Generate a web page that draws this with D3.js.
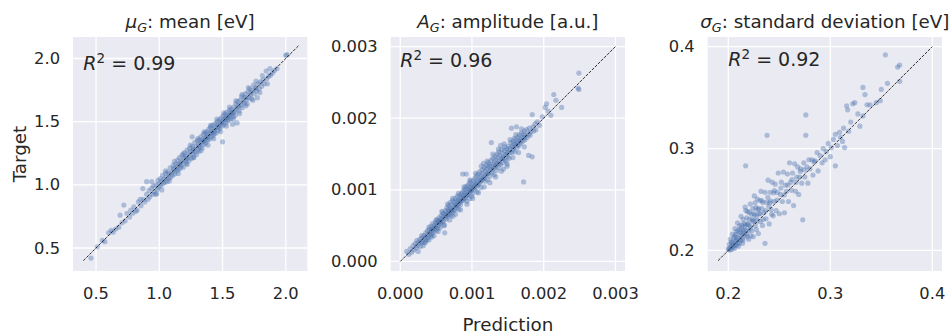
<!DOCTYPE html>
<html>
<head>
<meta charset="utf-8">
<script src="https://cdn.jsdelivr.net/npm/d3@7"></script>
<style>
  body { margin: 0; background: #fff; }
  text { font-family: "DejaVu Sans", sans-serif; fill: #262626; }
</style>
</head>
<body>
<div id="container"></div>
<script>
// [prediction, target] pairs
const muPoints = [
  [0.46,0.42],[0.51,0.51],[0.55,0.56],[0.57,0.55],[0.60,0.62],[0.62,0.64],[0.635,0.625],[0.655,0.65],[0.68,0.665],[0.69,0.76],
  [0.705,0.70],[0.72,0.84],[0.73,0.715],[0.745,0.775],[0.765,0.745],[0.775,0.80],[0.79,0.775],[0.80,0.825],[0.815,0.79],[0.825,0.80],
  [0.835,0.865],[0.85,0.885],[0.855,0.835],[0.87,0.97],[0.875,0.885],[0.885,0.865],[0.90,1.025],[0.90,0.925],[0.91,0.885],[0.92,0.955],
  [0.925,0.905],[0.94,1.025],[0.94,0.975],[0.945,0.925],[0.955,0.99],[0.96,0.945],[0.97,0.925],[0.975,1.00],[0.98,0.93],[0.985,0.965],
  [0.99,1.035],[0.995,0.98],[1.00,1.01],[1.008,1.05],[1.012,0.995],[1.02,1.03],[1.026,1.075],[1.03,1.01],[1.038,1.045],[1.045,1.02],
  [1.05,1.09],[1.055,1.06],[1.06,1.025],[1.068,1.10],[1.075,1.05],[1.08,1.085],[1.086,1.135],[1.09,1.06],[1.10,1.10],[1.105,1.075],
  [1.11,1.155],[1.118,1.12],[1.122,1.085],[1.13,1.165],[1.134,1.11],[1.14,1.14],[1.145,1.195],[1.15,1.12],[1.155,1.165],[1.16,1.215],
  [1.165,1.13],[1.17,1.18],[1.175,1.15],[1.18,1.235],[1.185,1.19],[1.19,1.14],[1.195,1.215],[1.20,1.255],[1.205,1.18],[1.21,1.225],
  [1.214,1.17],[1.22,1.275],[1.225,1.21],[1.23,1.245],[1.235,1.19],[1.24,1.29],[1.244,1.235],[1.25,1.265],[1.255,1.21],[1.26,1.38],
  [1.262,1.305],[1.266,1.25],[1.27,1.285],[1.275,1.22],[1.28,1.335],[1.284,1.26],[1.29,1.30],[1.295,1.24],[1.30,1.35],[1.302,1.28],
  [1.31,1.32],[1.312,1.265],[1.318,1.355],[1.322,1.30],[1.328,1.38],[1.332,1.335],[1.338,1.29],[1.342,1.36],[1.348,1.40],[1.352,1.32],
  [1.356,1.35],[1.362,1.41],[1.366,1.33],[1.37,1.375],[1.375,1.42],[1.38,1.35],[1.384,1.395],[1.39,1.44],[1.394,1.36],[1.40,1.41],
  [1.404,1.455],[1.41,1.375],[1.414,1.425],[1.42,1.47],[1.424,1.39],[1.43,1.44],[1.434,1.405],[1.44,1.485],[1.444,1.45],[1.45,1.41],
  [1.455,1.475],[1.46,1.50],[1.464,1.43],[1.47,1.465],[1.474,1.515],[1.48,1.445],[1.485,1.49],[1.49,1.53],[1.494,1.465],[1.50,1.505],
  [1.50,1.34],[1.505,1.545],[1.51,1.475],[1.515,1.52],[1.52,1.56],[1.525,1.49],[1.53,1.535],[1.535,1.575],[1.54,1.505],[1.545,1.55],
  [1.55,1.515],[1.555,1.59],[1.56,1.55],[1.565,1.525],[1.57,1.60],[1.575,1.565],[1.58,1.48],[1.585,1.54],[1.59,1.615],[1.595,1.58],
  [1.60,1.55],[1.605,1.64],[1.61,1.60],[1.615,1.49],[1.62,1.66],[1.625,1.615],[1.63,1.585],[1.64,1.67],[1.645,1.63],[1.65,1.70],
  [1.655,1.61],[1.66,1.655],[1.67,1.69],[1.675,1.645],[1.68,1.72],[1.69,1.675],[1.695,1.64],[1.70,1.735],[1.71,1.69],[1.715,1.76],
  [1.72,1.71],[1.73,1.68],[1.735,1.75],[1.745,1.79],[1.75,1.72],[1.76,1.77],[1.77,1.74],[1.775,1.69],[1.78,1.80],[1.79,1.76],
  [1.80,1.815],[1.81,1.78],[1.82,1.83],[1.83,1.80],[1.845,1.90],[1.85,1.84],[1.865,1.86],[1.88,1.87],[1.895,1.885],[1.91,1.905],
  [1.93,1.92],[2.00,2.025],[2.01,2.03],
  [1.02,0.96],[1.05,1.11],[1.08,1.03],[1.12,1.185],[1.15,1.09],[1.19,1.245],[1.22,1.16],[1.245,1.315],[1.27,1.215],[1.305,1.365],
  [1.33,1.27],[1.355,1.42],[1.385,1.315],[1.405,1.47],[1.43,1.365],[1.455,1.52],[1.485,1.42],[1.51,1.57],[1.53,1.465],[1.555,1.615],
  [1.585,1.52],[1.605,1.665],[1.635,1.565],[1.655,1.715],[1.685,1.625],[1.705,1.77],[1.74,1.67],[1.765,1.82],[1.795,1.73],[1.815,1.865],
  [1.855,1.80],[1.875,1.92],
  [1.115,1.13],[1.165,1.16],[1.215,1.205],[1.265,1.27],[1.315,1.31],[1.345,1.345],[1.365,1.37],[1.385,1.38],[1.415,1.41],[1.435,1.425],
  [1.465,1.455],[1.495,1.49],[1.525,1.52],[1.545,1.535],[1.565,1.57],[1.585,1.575],[1.625,1.63],[1.685,1.69],[1.725,1.73],[1.765,1.76]
];

// amplitude pairs, in units of 1e-3
const ampPoints = [
  [0.09,0.14],[0.12,0.10],[0.14,0.18],[0.16,0.13],[0.18,0.22],[0.19,0.16],[0.21,0.25],[0.22,0.19],[0.23,0.29],[0.24,0.22],
  [0.25,0.14],[0.26,0.27],[0.27,0.31],[0.28,0.21],[0.29,0.26],[0.30,0.33],[0.31,0.28],[0.32,0.22],[0.33,0.36],[0.34,0.31],
  [0.35,0.27],[0.355,0.40],[0.36,0.34],[0.37,0.30],[0.38,0.43],[0.385,0.37],[0.39,0.33],[0.40,0.30],[0.405,0.45],[0.41,0.40],
  [0.42,0.36],[0.43,0.49],[0.435,0.43],[0.44,0.38],[0.45,0.53],[0.455,0.46],[0.46,0.41],[0.47,0.36],[0.475,0.50],[0.48,0.45],
  [0.49,0.55],[0.495,0.48],[0.50,0.43],
  [0.51,0.52],[0.515,0.58],[0.52,0.46],[0.53,0.55],[0.535,0.50],[0.54,0.61],[0.55,0.57],[0.555,0.47],[0.56,0.53],[0.57,0.64],
  [0.575,0.59],[0.58,0.55],[0.59,0.68],[0.595,0.62],[0.60,0.56],[0.61,0.66],[0.615,0.51],[0.62,0.40],[0.625,0.61],[0.63,0.71],
  [0.635,0.65],[0.64,0.59],[0.65,0.75],[0.655,0.69],[0.66,0.63],[0.67,0.72],[0.675,0.78],[0.68,0.66],[0.69,0.70],[0.695,0.82],
  [0.70,0.74],[0.705,0.64],[0.71,0.68],[0.72,0.79],[0.725,0.73],[0.73,0.85],[0.735,0.63],[0.74,0.70],[0.75,0.77],[0.755,0.83],
  [0.76,0.72],[0.77,0.88],[0.775,0.80],[0.78,0.75],[0.79,0.84],[0.795,0.91],[0.80,0.78],[0.81,0.86],[0.815,0.73],[0.82,0.81],
  [0.83,0.93],[0.835,0.88],[0.84,0.79],[0.85,0.84],[0.855,0.95],[0.86,0.90],[0.87,1.22],[0.87,0.85],[0.875,0.98],[0.88,0.92],
  [0.89,0.87],[0.895,1.01],[0.90,0.95],[0.91,0.89],[0.915,1.04],[0.92,1.22],[0.92,0.97],[0.93,0.84],[0.935,0.92],[0.94,1.06],
  [0.945,1.00],[0.95,0.94],[0.96,1.09],[0.965,1.02],[0.97,0.88],[0.975,0.97],[0.98,1.12],[0.985,1.04],[0.99,0.99],[0.995,0.91],
  [1.00,1.08],[1.005,1.02],[1.01,0.95],[1.02,1.13],[1.025,1.06],[1.03,1.00],[1.04,1.16],[1.045,1.09],[1.05,1.03],[1.06,1.19],
  [1.065,1.11],[1.07,0.97],[1.08,1.06],[1.085,1.22],[1.09,1.14],[1.10,1.08],[1.105,1.25],[1.11,1.17],[1.12,1.11],[1.125,1.03],
  [1.13,1.20],[1.14,1.28],[1.145,1.14],[1.15,1.23],[1.16,1.37],[1.165,1.17],[1.17,1.31],[1.18,1.26],[1.185,1.12],[1.19,1.20],
  [1.20,1.34],[1.205,1.29],[1.21,1.22],[1.22,1.14],[1.225,1.32],[1.23,1.38],[1.24,1.25],[1.245,1.35],[1.25,1.19],[1.26,1.29],
  [1.265,1.41],[1.27,1.66],[1.27,1.33],[1.28,1.24],[1.29,1.44],[1.295,1.36],[1.30,1.30],[1.31,1.21],[1.315,1.39],[1.32,1.47],
  [1.33,1.33],[1.335,1.42],[1.34,1.27],[1.35,1.50],[1.355,1.37],[1.36,1.45],[1.37,1.31],[1.375,1.53],[1.38,1.40],[1.39,1.48],
  [1.40,1.62],[1.40,1.35],[1.41,1.43],[1.415,1.56],[1.42,1.51],[1.43,1.38],[1.435,1.46],[1.44,1.29],[1.45,1.55],[1.455,1.42],
  [1.46,1.60],[1.47,1.49],[1.475,1.40],[1.48,1.57],[1.49,1.33],[1.495,1.52],[1.50,1.46],
  [1.51,1.61],[1.515,1.55],[1.52,1.44],[1.53,1.58],[1.54,1.66],[1.55,1.86],[1.555,1.52],[1.56,1.61],[1.57,1.68],[1.575,1.56],
  [1.58,1.64],[1.59,1.72],[1.60,1.53],[1.605,1.63],[1.61,1.70],[1.62,1.88],[1.625,1.66],[1.63,1.59],[1.64,1.74],[1.65,1.68],
  [1.655,1.62],[1.66,1.77],[1.67,1.71],[1.68,1.65],[1.69,1.79],[1.70,1.73],[1.71,1.68],[1.72,1.11],[1.72,1.77],[1.73,1.82],
  [1.74,1.70],[1.75,1.76],[1.76,1.84],[1.77,1.73],[1.79,1.48],[1.79,1.78],[1.80,1.86],[1.81,1.76],[1.82,1.81],[1.84,2.05],
  [1.84,1.46],[1.85,1.88],[1.86,1.82],[1.88,1.92],[1.89,1.84],[1.91,1.95],[1.94,1.90],[1.98,2.02],[2.02,2.15],[2.04,2.20],
  [2.06,2.10],[2.10,2.04],[2.14,2.33],[2.17,2.25],[2.25,2.15],[2.48,2.42],[2.49,2.40],[2.49,2.63],
  [0.30,0.36],[0.34,0.26],[0.40,0.48],[0.44,0.34],[0.50,0.58],[0.53,0.42],[0.58,0.70],[0.61,0.50],[0.66,0.80],[0.69,0.58],
  [0.73,0.88],[0.77,0.66],[0.81,0.95],[0.84,0.72],[0.89,1.04],[0.93,0.80],[0.97,1.14],[1.01,0.88],[1.05,1.23],[1.09,0.96],
  [1.13,1.33],[1.17,1.04],[1.21,1.40],[1.25,1.10],[1.29,1.50],[1.33,1.18],[1.37,1.57],[1.41,1.26],[1.45,1.64],[1.49,1.36],
  [1.53,1.70],[1.57,1.45],[1.61,1.77],[1.65,1.52],[1.69,1.85],[1.73,1.60],
  [0.45,0.45],[0.55,0.55],[0.65,0.65],[0.72,0.71],[0.78,0.78],[0.83,0.84],[0.88,0.88],[0.93,0.93],[0.97,0.99],[1.03,1.04],
  [1.07,1.08],[1.12,1.13],[1.17,1.16],[1.22,1.23],[1.28,1.28],[1.33,1.34],[1.38,1.37],[1.43,1.44],[1.48,1.49],[1.53,1.52],
  [1.58,1.59],[1.63,1.63],[1.68,1.68],[1.73,1.73]
];

const sigmaPoints = [
  [0.200,0.201],[0.201,0.206],[0.2015,0.2005],[0.202,0.211],[0.203,0.201],[0.2035,0.2065],[0.204,0.216],[0.205,0.205],[0.2055,0.2125],[0.206,0.202],
  [0.2065,0.2215],[0.207,0.209],[0.2075,0.2155],[0.208,0.205],[0.2085,0.2125],[0.209,0.227],[0.2095,0.2195],[0.210,0.204],[0.2105,0.2115],[0.211,0.224],
  [0.2115,0.2175],[0.212,0.210],[0.2125,0.2335],[0.213,0.222],[0.2135,0.2165],[0.214,0.207],[0.2145,0.2305],[0.215,0.220],[0.2155,0.2265],[0.216,0.215],
  [0.2165,0.2425],[0.217,0.283],[0.217,0.225],[0.2175,0.2195],[0.218,0.232],[0.2185,0.2135],[0.219,0.238],[0.2195,0.2255],[0.220,0.211],[0.2205,0.2305],
  [0.221,0.224],[0.2215,0.2455],[0.222,0.222],[0.2225,0.2355],[0.223,0.219],[0.2235,0.2305],[0.224,0.241],[0.2245,0.2135],[0.225,0.229],[0.2255,0.2535],
  [0.226,0.235],[0.2265,0.2245],[0.227,0.242],[0.2275,0.2205],[0.228,0.229],[0.2285,0.2505],[0.229,0.240],[0.2295,0.2165],[0.230,0.236],[0.231,0.249],
  [0.2315,0.2285],[0.232,0.258],[0.233,0.241],[0.2335,0.2245],[0.234,0.247],[0.235,0.237],[0.236,0.207],[0.236,0.257],[0.237,0.231],[0.2375,0.2475],
  [0.238,0.313],[0.239,0.269],[0.2395,0.2435],[0.240,0.226],[0.241,0.257],[0.2415,0.2485],[0.242,0.240],[0.243,0.267],[0.244,0.234],[0.2445,0.2565],
  [0.2025,0.2035],[0.2045,0.2085],[0.2068,0.2052],[0.2082,0.2098],[0.2108,0.2072],[0.2122,0.2148],[0.2138,0.2118],[0.2152,0.2182],[0.2178,0.2158],[0.2198,0.2192],
  [0.2008,0.2022],[0.2028,0.2081],[0.2048,0.2029],[0.2062,0.2138],[0.2079,0.2183],[0.2093,0.2071],[0.2112,0.2203],[0.2131,0.2252],[0.2143,0.2101],[0.2161,0.2233],
  [0.2172,0.2391],[0.2189,0.2262],[0.2207,0.2375],[0.2219,0.2143],[0.2238,0.2287],[0.2251,0.2362],[0.2262,0.2468],[0.2279,0.2331],[0.2297,0.2412],[0.2312,0.2362],
  [0.2329,0.2488],[0.2342,0.2305],[0.2367,0.2392],[0.2388,0.2521],[0.2405,0.2468],[0.2426,0.2355],[0.2452,0.2588],[0.2478,0.2495],[0.2515,0.2612],[0.2548,0.2545],
  [0.2585,0.2642],[0.2625,0.2695],[0.2665,0.2668],[0.2705,0.2775],[0.2745,0.2791],
  [0.245,0.248],[0.246,0.265],[0.247,0.239],[0.248,0.257],[0.249,0.276],[0.250,0.236],[0.251,0.255],[0.252,0.267],[0.253,0.248],[0.254,0.277],
  [0.255,0.237],[0.256,0.264],[0.257,0.258],[0.258,0.275],[0.259,0.248],[0.260,0.286],[0.261,0.267],[0.262,0.259],[0.263,0.276],[0.264,0.244],
  [0.265,0.285],[0.266,0.258],[0.267,0.272],[0.268,0.282],[0.269,0.255],[0.270,0.272],[0.271,0.280],[0.272,0.266],[0.273,0.230],[0.274,0.286],
  [0.275,0.272],[0.276,0.333],[0.276,0.313],[0.277,0.282],[0.278,0.266],[0.279,0.289],[0.280,0.280],[0.282,0.289],[0.283,0.274],[0.284,0.287],
  [0.285,0.288],[0.287,0.296],[0.288,0.278],[0.290,0.293],[0.292,0.286],[0.293,0.300],[0.295,0.289],[0.296,0.297],[0.298,0.305],[0.300,0.292],
  [0.301,0.301],[0.303,0.309],[0.305,0.283],[0.305,0.314],[0.307,0.303],[0.309,0.316],[0.310,0.311],[0.312,0.307],[0.313,0.320],[0.314,0.301],
  [0.316,0.342],[0.317,0.338],[0.318,0.317],[0.320,0.326],[0.322,0.344],[0.324,0.345],[0.327,0.334],[0.329,0.322],[0.332,0.360],[0.332,0.332],
  [0.334,0.353],[0.336,0.343],[0.339,0.343],[0.345,0.345],[0.349,0.347],[0.350,0.358],[0.354,0.392],[0.356,0.364],[0.366,0.380],[0.368,0.382],
  [0.368,0.366]
];

const muTicks = [0.5, 1.0, 1.5, 2.0];
const ampTicks = [0, 0.001, 0.002, 0.003];
const sigmaTicks = [0.2, 0.3, 0.4];
const r2Values = ["0.99", "0.96", "0.92"];
const titleSymbols = ["μ", "A", "σ"];
const titleTexts = [": mean [eV]", ": amplitude [a.u.]", ": standard deviation [eV]"];

let width = 950, height = 334;
let axTop = 37, axBottom = 271, axW = 234.3;

let panels = [
  {points: muPoints, ticks: muTicks, fmt: d3.format(".1f"), left: 73,
   domain: [0.318, 2.17], line: [0.4, 2.1], r2x: 0.4, r2y: 1.905},
  {points: ampPoints.map(d => [d[0] * 1e-3, d[1] * 1e-3]), ticks: ampTicks, fmt: d3.format(".3f"), left: 390.7,
   domain: [-0.000133, 0.003133], line: [0, 0.003], r2x: 0, r2y: 0.00271},
  {points: sigmaPoints, ticks: sigmaTicks, fmt: d3.format(".1f"), left: 707.7,
   domain: [0.1798, 0.4095], line: [0.19, 0.4], r2x: 0.2, r2y: 0.381}
];

let svg = d3.select("#container")
  .append("svg")
    .attr("width", width)
    .attr("height", height);

svg.append("rect").attr("width", width).attr("height", height).attr("fill", "#fff");

panels.forEach(function(p, i) {
  let xScale = d3.scaleLinear().domain(p.domain).range([p.left, p.left + axW]);
  let yScale = d3.scaleLinear().domain(p.domain).range([axBottom, axTop]);

  let g = svg.append("g");

  // background + grid
  g.append("rect")
    .attr("x", p.left).attr("y", axTop)
    .attr("width", axW).attr("height", axBottom - axTop)
    .attr("fill", "#eaeaf2");

  g.selectAll(".vgrid").data(p.ticks).enter().append("line")
    .attr("x1", d => xScale(d)).attr("x2", d => xScale(d))
    .attr("y1", axTop).attr("y2", axBottom)
    .attr("stroke", "#fff").attr("stroke-width", 1.3);

  g.selectAll(".hgrid").data(p.ticks).enter().append("line")
    .attr("y1", d => yScale(d)).attr("y2", d => yScale(d))
    .attr("x1", p.left).attr("x2", p.left + axW)
    .attr("stroke", "#fff").attr("stroke-width", 1.3);

  // tick labels
  g.selectAll(".xtick").data(p.ticks).enter().append("text")
    .attr("x", d => xScale(d)).attr("y", axBottom + 27.5)
    .attr("text-anchor", "middle").attr("font-size", 16.3)
    .text(p.fmt);

  g.selectAll(".ytick").data(p.ticks).enter().append("text")
    .attr("x", p.left - 13).attr("y", d => yScale(d))
    .attr("text-anchor", "end").attr("dominant-baseline", "central").attr("font-size", 16.3)
    .text(p.fmt);

  // points
  g.selectAll("circle").data(p.points).enter().append("circle")
    .attr("cx", d => xScale(d[0]))
    .attr("cy", d => yScale(d[1]))
    .attr("r", 2.6)
    .attr("fill", "#4c72b0")
    .attr("fill-opacity", 0.4);

  // identity line
  g.append("line")
    .attr("x1", xScale(p.line[0])).attr("y1", yScale(p.line[0]))
    .attr("x2", xScale(p.line[1])).attr("y2", yScale(p.line[1]))
    .attr("stroke", "#000").attr("stroke-width", 0.8)
    .attr("stroke-dasharray", "3,1.3");

  // R^2 annotation
  let r2 = g.append("text")
    .attr("x", xScale(p.r2x)).attr("y", yScale(p.r2y))
    .attr("font-size", 19);
  r2.append("tspan").attr("font-style", "italic").text("R");
  r2.append("tspan").attr("dy", -7.5).attr("font-size", 13.5).text("2");
  r2.append("tspan").attr("dy", 7.5).text(" = " + r2Values[i]);

  // title
  let title = g.append("text")
    .attr("x", p.left + axW / 2).attr("y", axTop - 9)
    .attr("text-anchor", "middle").attr("font-size", 18.3);
  title.append("tspan").attr("font-style", "italic").text(titleSymbols[i]);
  title.append("tspan").attr("dy", 4).attr("font-size", 12.8).attr("font-style", "italic").text("G");
  title.append("tspan").attr("dy", -4).text(titleTexts[i]);
});

svg.append("text")
  .attr("transform", "translate(19," + ((axTop + axBottom) / 2) + ") rotate(-90)")
  .attr("text-anchor", "middle").attr("dominant-baseline", "central")
  .attr("font-size", 18.3)
  .text("Target");

svg.append("text")
  .attr("x", panels[1].left + axW / 2).attr("y", 331)
  .attr("text-anchor", "middle").attr("font-size", 18.3)
  .text("Prediction");
</script>
</body>
</html>
